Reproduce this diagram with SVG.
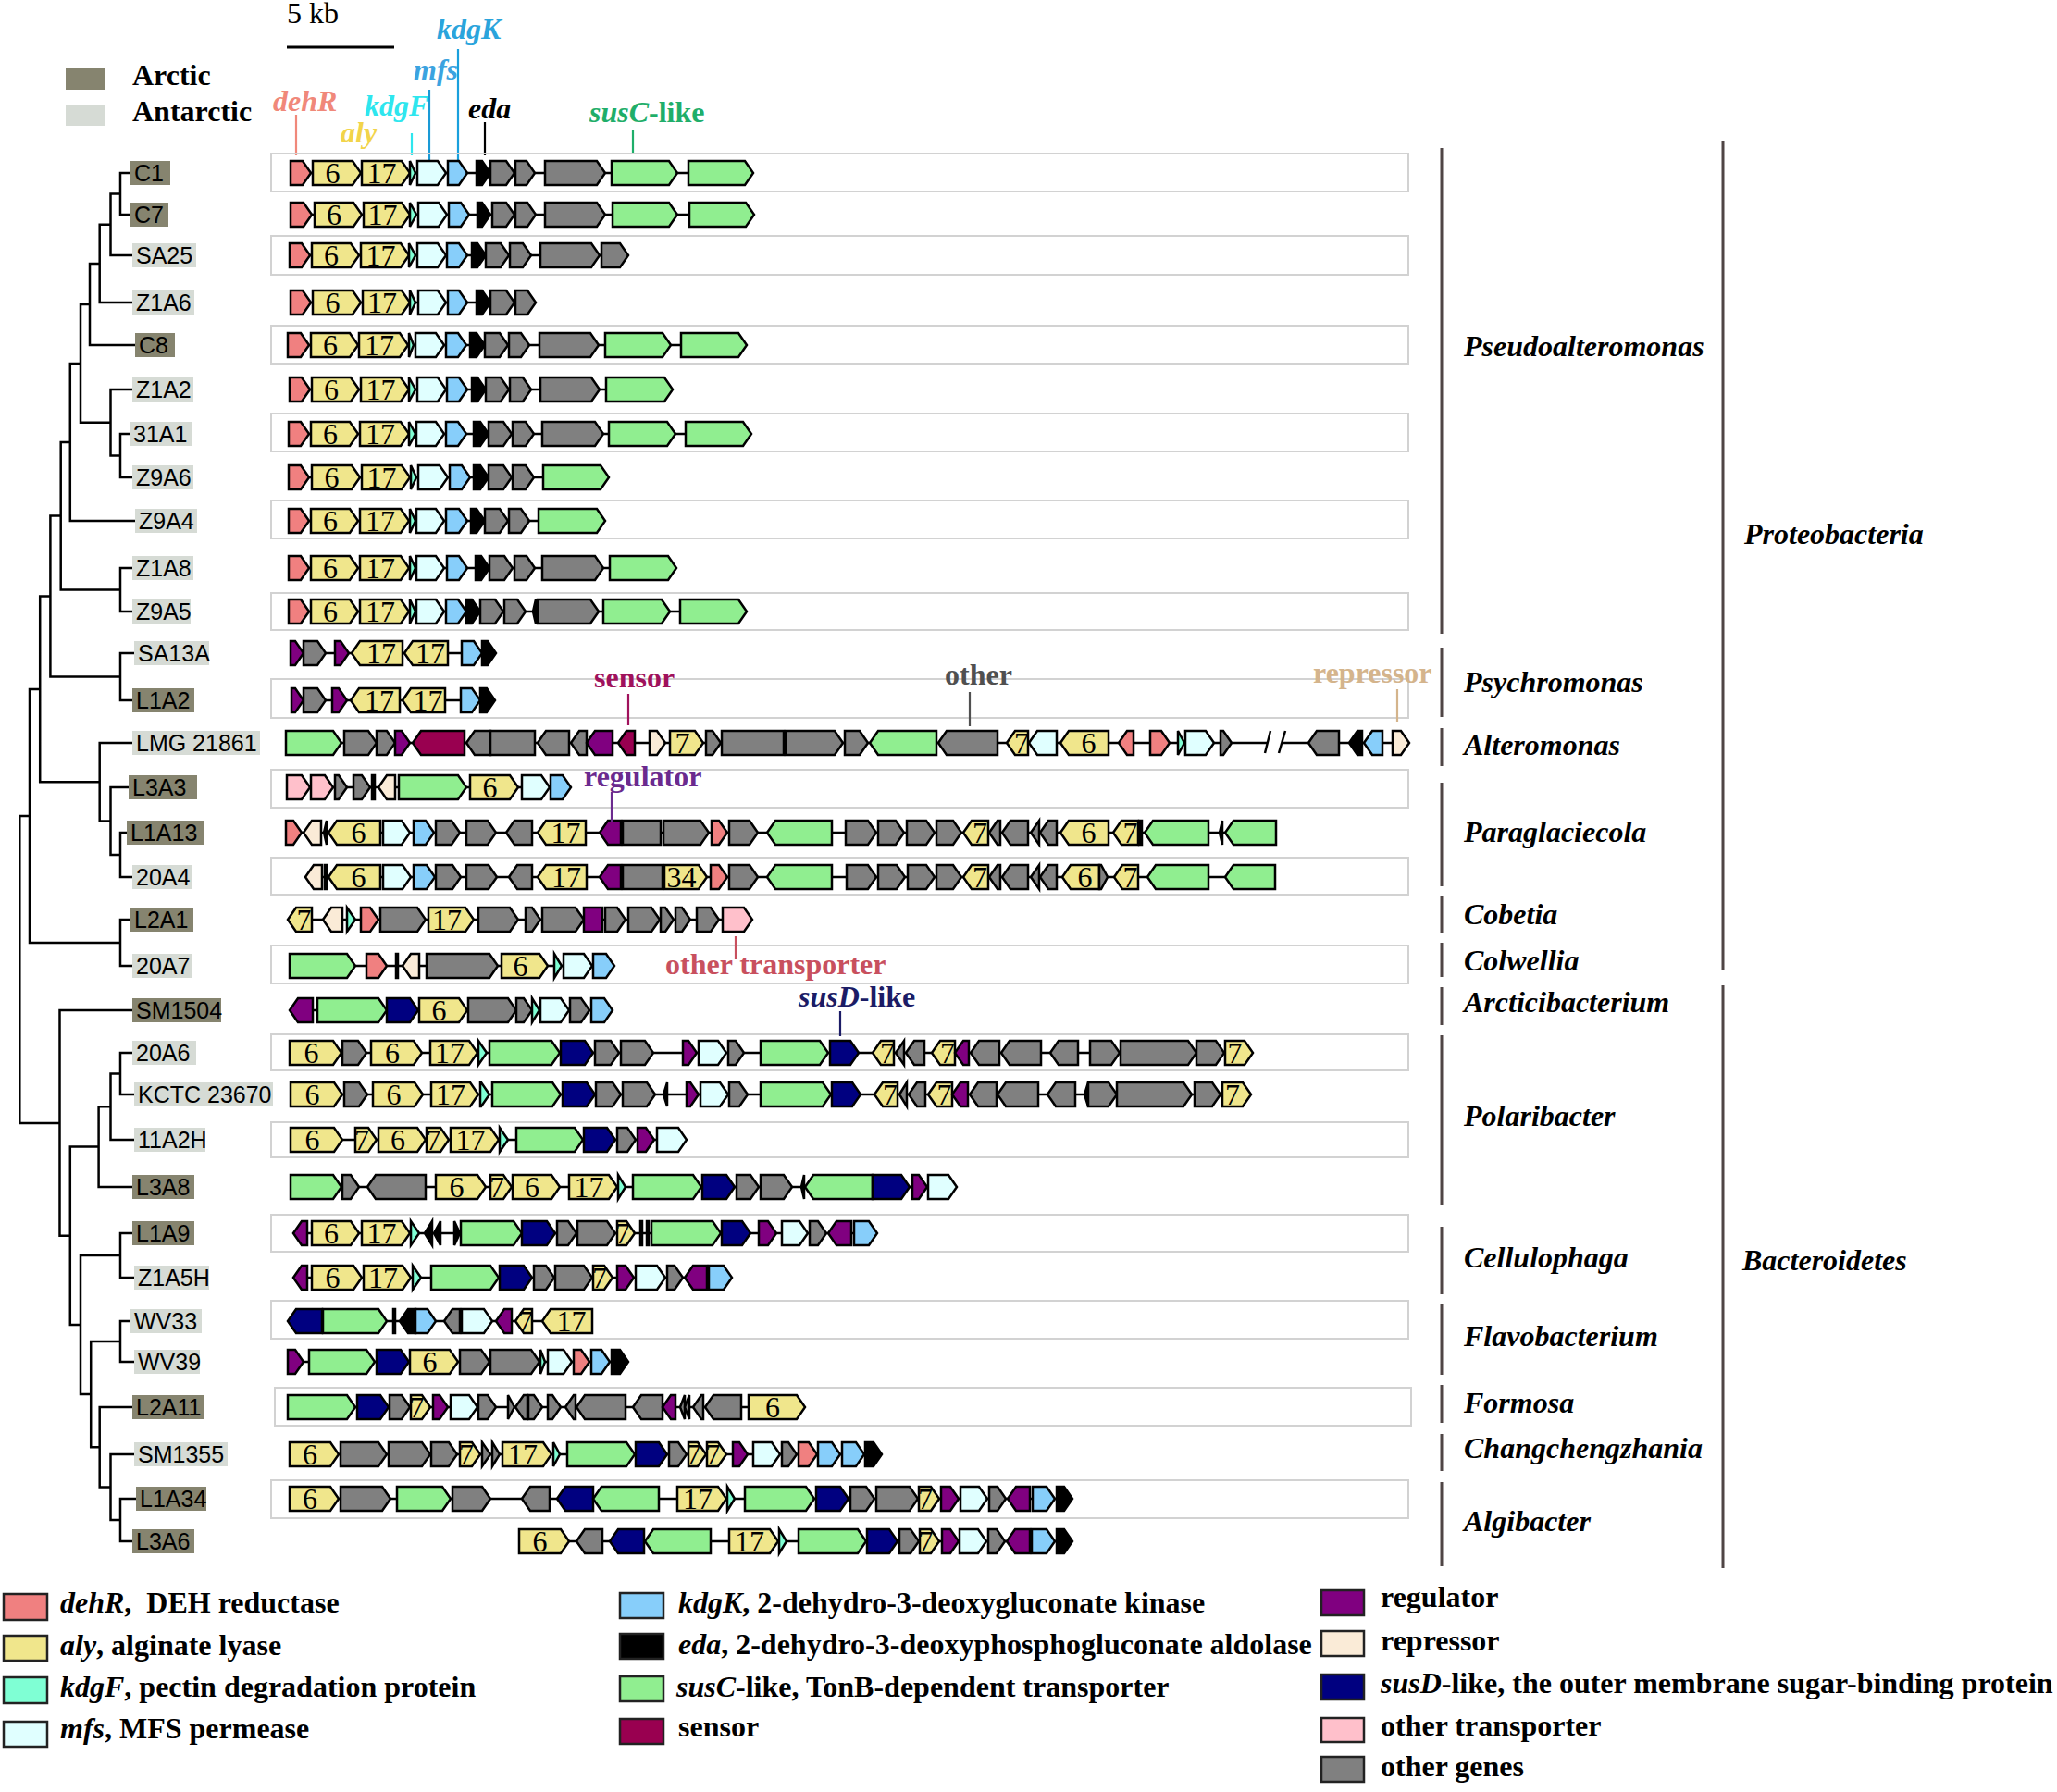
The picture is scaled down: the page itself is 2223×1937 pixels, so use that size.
<svg xmlns="http://www.w3.org/2000/svg" width="2223" height="1937" viewBox="0 0 2223 1937">
<style>
.tx{font-family:"Liberation Serif","Times New Roman",serif;font-weight:bold;font-size:32px}
.it{font-style:italic}
.lab{font-family:"Liberation Sans",Arial,sans-serif;font-size:25px;fill:#000}
.num{font-family:"Liberation Serif","Times New Roman",serif;font-size:32px;text-anchor:middle;fill:#000}
.genes polygon{stroke:#000;stroke-width:2.5;stroke-linejoin:miter}
.bb{stroke:#000;stroke-width:2.5}
.frame{fill:none;stroke:#d2d2d2;stroke-width:2}
.arc{fill:#86846f}.ant{fill:#d6dbd5}
.tree{fill:none;stroke:#000;stroke-width:2.5}
.tax{stroke:#4f4545;stroke-width:3}
.tick{stroke-width:2.2}
.lg{stroke:#222;stroke-width:2.5}
.r{fill:#f08080}.y{fill:#f0e68c}.f{fill:#7fffd4}.m{fill:#e0ffff}.k{fill:#87cefa}.e{fill:#000}.c{fill:#90ee90}.s{fill:#990050}.g{fill:#800080}.p{fill:#faebd7}.d{fill:#000080}.t{fill:#ffc0cb}.o{fill:#808080}
</style>
<rect width="2223" height="1937" fill="#fff"/>

<g id="header">
<text class="tx" style="font-weight:normal" x="310" y="25" font-size="31">5 kb</text>
<line x1="310" y1="51" x2="426" y2="51" stroke="#000" stroke-width="3"/>
<rect class="arc" x="71" y="73" width="42" height="24"/>
<rect class="ant" x="71" y="113" width="42" height="23"/>
<text class="tx" x="143" y="92">Arctic</text>
<text class="tx" x="143" y="131">Antarctic</text>
<text class="tx it" x="295" y="120" fill="#f0887a">dehR</text>
<text class="tx it" x="368" y="154" fill="#f2d44a">aly</text>
<text class="tx it" x="394" y="125" fill="#2ee6ee">kdgF</text>
<text class="tx it" x="447" y="86" fill="#3ba3e0">mfs</text>
<text class="tx it" x="472" y="42" fill="#2aa4dc">kdgK</text>
<text class="tx it" x="506" y="128" fill="#000">eda</text>
<text class="tx" x="637" y="132" fill="#1fae6a"><tspan class="it">susC</tspan>-like</text>
<line class="tick" x1="320" y1="124" x2="320" y2="168" stroke="#f0887a"/>
<line class="tick" x1="445" y1="144" x2="445" y2="168" stroke="#2ee6ee"/>
<line class="tick" x1="464" y1="97" x2="464" y2="174" stroke="#1a9ad6"/>
<line class="tick" x1="495" y1="53" x2="495" y2="174" stroke="#1aa0dd"/>
<line class="tick" x1="524" y1="132" x2="524" y2="168" stroke="#000"/>
<line class="tick" x1="684" y1="140" x2="684" y2="166" stroke="#1fae6a"/>
</g>

<g id="connectors">
<path class="tree" d="M141,187H130V232H141 M130,209.5H119.5V276H143 M119.5,242.75H107.7V327H143 M107.7,284.9H97V373H146 M140,469H130V516H143 M143,421H119.5V492.5H130 M97,329H87V456.75H119.5 M87,393H75.8V563H146 M143,614H130V661H143 M75.8,478H65.7V637.5H130 M145,706H130V757H143 M65.7,557.6H54.4V731.5H130 M137,900H130V948H143 M139,851H119.5V924H130 M143,803H107.7V887.5H119.5 M54.4,644.5H43.2V845.25H107.7 M141,994H130V1044H143 M43.2,744.9H32V1019H130 M143,1138H130V1183H145 M130,1160.5H119.5V1232H145 M119.5,1196.25H106.6V1283H143 M143,1333H130V1381H145 M141,1428H130V1472H145 M147,1620H130V1666H143 M145,1572H119.5V1643H130 M143,1521H107.7V1607.5H119.5 M130,1450H98.2V1564.25H107.7 M130,1357H87V1507.1H98.2 M106.6,1239.6H75.8V1432H87 M143,1092H64.5V1335.8H75.8 M32,882H21.3V1213.9H64.5"/>
</g>

<g id="frames">
<rect class="frame" x="293" y="166" width="1229" height="41"/>
<rect class="frame" x="293" y="255" width="1229" height="42"/>
<rect class="frame" x="293" y="352" width="1229" height="41"/>
<rect class="frame" x="293" y="447" width="1229" height="41"/>
<rect class="frame" x="293" y="541" width="1229" height="41"/>
<rect class="frame" x="293" y="641" width="1229" height="40"/>
<rect class="frame" x="293" y="734" width="1229" height="42"/>
<rect class="frame" x="293" y="832" width="1229" height="41"/>
<rect class="frame" x="293" y="927" width="1229" height="40"/>
<rect class="frame" x="293" y="1022" width="1229" height="41"/>
<rect class="frame" x="293" y="1118" width="1229" height="39"/>
<rect class="frame" x="293" y="1213" width="1229" height="38"/>
<rect class="frame" x="293" y="1313" width="1229" height="40"/>
<rect class="frame" x="293" y="1406" width="1229" height="41"/>
<rect class="frame" x="297" y="1500" width="1228" height="41"/>
<rect class="frame" x="293" y="1600" width="1229" height="41"/>
</g>

<g id="row-C1">
<rect class="arc" x="141" y="174" width="43" height="26"/><text class="lab" x="145" y="196">C1</text>
<g class="genes" transform="translate(0,187)">
<line class="bb" x1="314" x2="814"/>
<polygon class="r" points="314,-13 327,-13 336,0 327,13 314,13"/>
<polygon class="y" points="338,-13 381,-13 390,0 381,13 338,13"/>
<polygon class="y" points="391,-13 434,-13 443,0 434,13 391,13"/>
<polygon class="f" points="443,-13 449,0 443,13"/>
<polygon class="m" points="451,-13 473,-13 482,0 473,13 451,13"/>
<polygon class="k" points="484,-13 496,-13 505,0 496,13 484,13"/>
<polygon class="e" points="515,-13 521,-13 530,0 521,13 515,13"/>
<polygon class="o" points="530,-13 547,-13 556,0 547,13 530,13"/>
<polygon class="o" points="557,-13 569,-13 578,0 569,13 557,13"/>
<polygon class="o" points="589,-13 645,-13 654,0 645,13 589,13"/>
<polygon class="c" points="661,-13 723,-13 732,0 723,13 661,13"/>
<polygon class="c" points="744,-13 805,-13 814,0 805,13 744,13"/>
<text class="num" x="359.5" y="11">6</text><text class="num" x="412.5" y="11">17</text>
</g></g>

<g id="row-C7">
<rect class="arc" x="141" y="219" width="41" height="26"/><text class="lab" x="145" y="241">C7</text>
<g class="genes" transform="translate(0,232)">
<line class="bb" x1="314" x2="815"/>
<polygon class="r" points="314,-13 328,-13 337,0 328,13 314,13"/>
<polygon class="y" points="340,-13 382,-13 391,0 382,13 340,13"/>
<polygon class="y" points="393,-13 434,-13 443,0 434,13 393,13"/>
<polygon class="f" points="443,-13 450,0 443,13"/>
<polygon class="m" points="452,-13 474,-13 483,0 474,13 452,13"/>
<polygon class="k" points="485,-13 498,-13 507,0 498,13 485,13"/>
<polygon class="e" points="516,-13 521,-13 530,0 521,13 516,13"/>
<polygon class="o" points="532,-13 547,-13 556,0 547,13 532,13"/>
<polygon class="o" points="557,-13 570,-13 579,0 570,13 557,13"/>
<polygon class="o" points="589,-13 645,-13 654,0 645,13 589,13"/>
<polygon class="c" points="662,-13 723,-13 732,0 723,13 662,13"/>
<polygon class="c" points="745,-13 806,-13 815,0 806,13 745,13"/>
<text class="num" x="361" y="11">6</text><text class="num" x="413.5" y="11">17</text>
</g></g>

<g id="row-SA25">
<rect class="ant" x="143" y="263" width="69" height="26"/><text class="lab" x="147" y="285">SA25</text>
<g class="genes" transform="translate(0,276)">
<line class="bb" x1="313" x2="679"/>
<polygon class="r" points="313,-13 326,-13 335,0 326,13 313,13"/>
<polygon class="y" points="337,-13 379,-13 388,0 379,13 337,13"/>
<polygon class="y" points="390,-13 433,-13 442,0 433,13 390,13"/>
<polygon class="f" points="442,-13 449,0 442,13"/>
<polygon class="m" points="451,-13 473,-13 482,0 473,13 451,13"/>
<polygon class="k" points="483,-13 496,-13 505,0 496,13 483,13"/>
<polygon class="e" points="510,-13 516,-13 525,0 516,13 510,13"/>
<polygon class="o" points="525,-13 541,-13 550,0 541,13 525,13"/>
<polygon class="o" points="551,-13 565,-13 574,0 565,13 551,13"/>
<polygon class="o" points="584,-13 639,-13 648,0 639,13 584,13"/>
<polygon class="o" points="650,-13 670,-13 679,0 670,13 650,13"/>
<text class="num" x="358" y="11">6</text><text class="num" x="411.5" y="11">17</text>
</g></g>

<g id="row-Z1A6">
<rect class="ant" x="143" y="314" width="67" height="26"/><text class="lab" x="147" y="336">Z1A6</text>
<g class="genes" transform="translate(0,327)">
<line class="bb" x1="314" x2="579"/>
<polygon class="r" points="314,-13 327,-13 336,0 327,13 314,13"/>
<polygon class="y" points="338,-13 381,-13 390,0 381,13 338,13"/>
<polygon class="y" points="392,-13 434,-13 443,0 434,13 392,13"/>
<polygon class="f" points="443,-13 449,0 443,13"/>
<polygon class="m" points="452,-13 473,-13 482,0 473,13 452,13"/>
<polygon class="k" points="484,-13 496,-13 505,0 496,13 484,13"/>
<polygon class="e" points="515,-13 521,-13 530,0 521,13 515,13"/>
<polygon class="o" points="530,-13 547,-13 556,0 547,13 530,13"/>
<polygon class="o" points="557,-13 570,-13 579,0 570,13 557,13"/>
<text class="num" x="359.5" y="11">6</text><text class="num" x="413" y="11">17</text>
</g></g>

<g id="row-C8">
<rect class="arc" x="146" y="360" width="43" height="26"/><text class="lab" x="150" y="382">C8</text>
<g class="genes" transform="translate(0,373)">
<line class="bb" x1="311" x2="807"/>
<polygon class="r" points="311,-13 325,-13 334,0 325,13 311,13"/>
<polygon class="y" points="336,-13 378,-13 387,0 378,13 336,13"/>
<polygon class="y" points="388,-13 432,-13 441,0 432,13 388,13"/>
<polygon class="f" points="442,-13 447,0 442,13"/>
<polygon class="m" points="449,-13 471,-13 480,0 471,13 449,13"/>
<polygon class="k" points="482,-13 495,-13 504,0 495,13 482,13"/>
<polygon class="e" points="508,-13 515,-13 524,0 515,13 508,13"/>
<polygon class="o" points="524,-13 540,-13 549,0 540,13 524,13"/>
<polygon class="o" points="550,-13 563,-13 572,0 563,13 550,13"/>
<polygon class="o" points="583,-13 638,-13 647,0 638,13 583,13"/>
<polygon class="c" points="654,-13 716,-13 725,0 716,13 654,13"/>
<polygon class="c" points="736,-13 798,-13 807,0 798,13 736,13"/>
<text class="num" x="357" y="11">6</text><text class="num" x="410" y="11">17</text>
</g></g>

<g id="row-Z1A2">
<rect class="ant" x="143" y="408" width="66" height="26"/><text class="lab" x="147" y="430">Z1A2</text>
<g class="genes" transform="translate(0,421)">
<line class="bb" x1="313" x2="727"/>
<polygon class="r" points="313,-13 326,-13 335,0 326,13 313,13"/>
<polygon class="y" points="337,-13 379,-13 388,0 379,13 337,13"/>
<polygon class="y" points="390,-13 433,-13 442,0 433,13 390,13"/>
<polygon class="f" points="442,-13 449,0 442,13"/>
<polygon class="m" points="451,-13 473,-13 482,0 473,13 451,13"/>
<polygon class="k" points="483,-13 496,-13 505,0 496,13 483,13"/>
<polygon class="e" points="510,-13 516,-13 525,0 516,13 510,13"/>
<polygon class="o" points="525,-13 541,-13 550,0 541,13 525,13"/>
<polygon class="o" points="551,-13 565,-13 574,0 565,13 551,13"/>
<polygon class="o" points="584,-13 639,-13 648,0 639,13 584,13"/>
<polygon class="c" points="655,-13 718,-13 727,0 718,13 655,13"/>
<text class="num" x="358" y="11">6</text><text class="num" x="411.5" y="11">17</text>
</g></g>

<g id="row-31A1">
<rect class="ant" x="140" y="456" width="68" height="26"/><text class="lab" x="144" y="478">31A1</text>
<g class="genes" transform="translate(0,469)">
<line class="bb" x1="312" x2="812"/>
<polygon class="r" points="312,-13 325,-13 334,0 325,13 312,13"/>
<polygon class="y" points="336,-13 378,-13 387,0 378,13 336,13"/>
<polygon class="y" points="389,-13 433,-13 442,0 433,13 389,13"/>
<polygon class="f" points="442,-13 449,0 442,13"/>
<polygon class="m" points="450,-13 471,-13 480,0 471,13 450,13"/>
<polygon class="k" points="482,-13 495,-13 504,0 495,13 482,13"/>
<polygon class="e" points="512,-13 519,-13 528,0 519,13 512,13"/>
<polygon class="o" points="528,-13 544,-13 553,0 544,13 528,13"/>
<polygon class="o" points="554,-13 568,-13 577,0 568,13 554,13"/>
<polygon class="o" points="586,-13 643,-13 652,0 643,13 586,13"/>
<polygon class="c" points="658,-13 721,-13 730,0 721,13 658,13"/>
<polygon class="c" points="741,-13 803,-13 812,0 803,13 741,13"/>
<text class="num" x="357" y="11">6</text><text class="num" x="411" y="11">17</text>
</g></g>

<g id="row-Z9A6">
<rect class="ant" x="143" y="503" width="66" height="26"/><text class="lab" x="147" y="525">Z9A6</text>
<g class="genes" transform="translate(0,516)">
<line class="bb" x1="312" x2="658"/>
<polygon class="r" points="312,-13 325,-13 334,0 325,13 312,13"/>
<polygon class="y" points="337,-13 380,-13 389,0 380,13 337,13"/>
<polygon class="y" points="391,-13 434,-13 443,0 434,13 391,13"/>
<polygon class="f" points="444,-13 450,0 444,13"/>
<polygon class="m" points="452,-13 475,-13 484,0 475,13 452,13"/>
<polygon class="k" points="486,-13 499,-13 508,0 499,13 486,13"/>
<polygon class="e" points="512,-13 519,-13 528,0 519,13 512,13"/>
<polygon class="o" points="528,-13 544,-13 553,0 544,13 528,13"/>
<polygon class="o" points="554,-13 568,-13 577,0 568,13 554,13"/>
<polygon class="c" points="587,-13 649,-13 658,0 649,13 587,13"/>
<text class="num" x="358.5" y="11">6</text><text class="num" x="412.5" y="11">17</text>
</g></g>

<g id="row-Z9A4">
<rect class="ant" x="146" y="550" width="67" height="26"/><text class="lab" x="150" y="572">Z9A4</text>
<g class="genes" transform="translate(0,563)">
<line class="bb" x1="312" x2="654"/>
<polygon class="r" points="312,-13 325,-13 334,0 325,13 312,13"/>
<polygon class="y" points="336,-13 378,-13 387,0 378,13 336,13"/>
<polygon class="y" points="389,-13 433,-13 442,0 433,13 389,13"/>
<polygon class="f" points="443,-13 449,0 443,13"/>
<polygon class="m" points="450,-13 471,-13 480,0 471,13 450,13"/>
<polygon class="k" points="482,-13 496,-13 505,0 496,13 482,13"/>
<polygon class="e" points="509,-13 515,-13 524,0 515,13 509,13"/>
<polygon class="o" points="524,-13 540,-13 549,0 540,13 524,13"/>
<polygon class="o" points="550,-13 563,-13 572,0 563,13 550,13"/>
<polygon class="c" points="582,-13 645,-13 654,0 645,13 582,13"/>
<text class="num" x="357" y="11">6</text><text class="num" x="411" y="11">17</text>
</g></g>

<g id="row-Z1A8">
<rect class="ant" x="143" y="601" width="66" height="26"/><text class="lab" x="147" y="623">Z1A8</text>
<g class="genes" transform="translate(0,614)">
<line class="bb" x1="312" x2="731"/>
<polygon class="r" points="312,-13 325,-13 334,0 325,13 312,13"/>
<polygon class="y" points="336,-13 378,-13 387,0 378,13 336,13"/>
<polygon class="y" points="389,-13 433,-13 442,0 433,13 389,13"/>
<polygon class="f" points="443,-13 449,0 443,13"/>
<polygon class="m" points="450,-13 471,-13 480,0 471,13 450,13"/>
<polygon class="k" points="483,-13 496,-13 505,0 496,13 483,13"/>
<polygon class="e" points="514,-13 520,-13 529,0 520,13 514,13"/>
<polygon class="o" points="529,-13 545,-13 554,0 545,13 529,13"/>
<polygon class="o" points="556,-13 569,-13 578,0 569,13 556,13"/>
<polygon class="o" points="586,-13 643,-13 652,0 643,13 586,13"/>
<polygon class="c" points="659,-13 722,-13 731,0 722,13 659,13"/>
<text class="num" x="357" y="11">6</text><text class="num" x="411" y="11">17</text>
</g></g>

<g id="row-Z9A5">
<rect class="ant" x="143" y="648" width="63" height="26"/><text class="lab" x="147" y="670">Z9A5</text>
<g class="genes" transform="translate(0,661)">
<line class="bb" x1="312" x2="807"/>
<polygon class="r" points="312,-13 325,-13 334,0 325,13 312,13"/>
<polygon class="y" points="336,-13 378,-13 387,0 378,13 336,13"/>
<polygon class="y" points="389,-13 433,-13 442,0 433,13 389,13"/>
<polygon class="f" points="443,-13 449,0 443,13"/>
<polygon class="m" points="450,-13 471,-13 480,0 471,13 450,13"/>
<polygon class="k" points="482,-13 495,-13 504,0 495,13 482,13"/>
<polygon class="e" points="504,-13 510,-13 519,0 510,13 504,13"/>
<polygon class="o" points="519,-13 535,-13 544,0 535,13 519,13"/>
<polygon class="o" points="545,-13 559,-13 568,0 559,13 545,13"/>
<polygon class="e" points="576,0 579,-13 579,13"/>
<polygon class="o" points="581,-13 638,-13 647,0 638,13 581,13"/>
<polygon class="c" points="652,-13 715,-13 724,0 715,13 652,13"/>
<polygon class="c" points="735,-13 798,-13 807,0 798,13 735,13"/>
<text class="num" x="357" y="11">6</text><text class="num" x="411" y="11">17</text>
</g></g>

<g id="row-SA13A">
<rect class="ant" x="145" y="693" width="81" height="26"/><text class="lab" x="149" y="715">SA13A</text>
<g class="genes" transform="translate(0,706)">
<line class="bb" x1="314" x2="536"/>
<polygon class="g" points="314,-13 319,-13 328,0 319,13 314,13"/>
<polygon class="o" points="328,-13 343,-13 352,0 343,13 328,13"/>
<polygon class="g" points="362,-13 368,-13 377,0 368,13 362,13"/>
<polygon class="y" points="380,0 389,-13 435,-13 435,13 389,13"/>
<polygon class="y" points="437,0 446,-13 484,-13 484,13 446,13"/>
<polygon class="k" points="499,-13 512,-13 521,0 512,13 499,13"/>
<polygon class="e" points="521,-13 527,-13 536,0 527,13 521,13"/>
<text class="num" x="412" y="11">17</text><text class="num" x="465" y="11">17</text>
</g></g>

<g id="row-L1A2">
<rect class="arc" x="143" y="744" width="67" height="26"/><text class="lab" x="147" y="766">L1A2</text>
<g class="genes" transform="translate(0,757)">
<line class="bb" x1="315" x2="535"/>
<polygon class="g" points="315,-13 319,-13 328,0 319,13 315,13"/>
<polygon class="o" points="328,-13 343,-13 352,0 343,13 328,13"/>
<polygon class="g" points="359,-13 366,-13 375,0 366,13 359,13"/>
<polygon class="y" points="379,0 388,-13 432,-13 432,13 388,13"/>
<polygon class="y" points="435,0 444,-13 481,-13 481,13 444,13"/>
<polygon class="k" points="498,-13 510,-13 519,0 510,13 498,13"/>
<polygon class="e" points="519,-13 526,-13 535,0 526,13 519,13"/>
<text class="num" x="410" y="11">17</text><text class="num" x="462.5" y="11">17</text>
</g></g>

<g id="row-LMG21861">
<rect class="ant" x="143" y="790" width="138" height="26"/><text class="lab" x="147" y="812">LMG 21861</text>
<g class="genes" transform="translate(0,803)">
<line class="bb" x1="309" x2="1370"/>
<line class="bb" x1="1385" x2="1523"/>
<line class="bb" x1="1373" y1="-13" x2="1367" y2="11"/>
<line class="bb" x1="1389" y1="-13" x2="1382" y2="11"/>
<polygon class="c" points="309,-13 360,-13 369,0 360,13 309,13"/>
<polygon class="o" points="372,-13 398,-13 407,0 398,13 372,13"/>
<polygon class="o" points="407,-13 418,-13 427,0 418,13 407,13"/>
<polygon class="g" points="427,-13 434,-13 443,0 434,13 427,13"/>
<polygon class="s" points="446,0 455,-13 502,-13 502,13 455,13"/>
<polygon class="o" points="504,0 513,-13 530,-13 530,13 513,13"/>
<polygon class="o" points="530,-13 578,-13 578,13 530,13"/>
<polygon class="o" points="581,0 590,-13 615,-13 615,13 590,13"/>
<polygon class="o" points="617,0 626,-13 634,-13 634,13 626,13"/>
<polygon class="g" points="634,0 643,-13 662,-13 662,13 643,13"/>
<polygon class="s" points="668,0 677,-13 686,-13 686,13 677,13"/>
<polygon class="p" points="702,-13 710,-13 719,0 710,13 702,13"/>
<polygon class="y" points="724,-13 751,-13 760,0 751,13 724,13"/>
<polygon class="o" points="763,-13 770,-13 779,0 770,13 763,13"/>
<polygon class="o" points="780,-13 847,-13 847,13 780,13"/>
<polygon class="o" points="849,-13 902,-13 911,0 902,13 849,13"/>
<polygon class="o" points="913,-13 929,-13 938,0 929,13 913,13"/>
<polygon class="c" points="940,0 949,-13 1012,-13 1012,13 949,13"/>
<polygon class="o" points="1014,0 1023,-13 1078,-13 1078,13 1023,13"/>
<polygon class="y" points="1088,0 1097,-13 1111,-13 1111,13 1097,13"/>
<polygon class="m" points="1112,0 1121,-13 1142,-13 1142,13 1121,13"/>
<polygon class="y" points="1146,0 1155,-13 1198,-13 1198,13 1155,13"/>
<polygon class="r" points="1209,0 1218,-13 1225,-13 1225,13 1218,13"/>
<polygon class="r" points="1243,-13 1255,-13 1264,0 1255,13 1243,13"/>
<polygon class="f" points="1273,-13 1280,0 1273,13"/>
<polygon class="m" points="1281,-13 1303,-13 1312,0 1303,13 1281,13"/>
<polygon class="o" points="1319,-13 1322,-13 1331,0 1322,13 1319,13"/>
<polygon class="o" points="1414,0 1423,-13 1447,-13 1447,13 1423,13"/>
<polygon class="e" points="1458,0 1467,-13 1472,-13 1472,13 1467,13"/>
<polygon class="k" points="1474,0 1483,-13 1494,-13 1494,13 1483,13"/>
<polygon class="p" points="1505,-13 1514,-13 1523,0 1514,13 1505,13"/>
<text class="num" x="737.5" y="11">7</text><text class="num" x="1104" y="11">7</text><text class="num" x="1176.5" y="11">6</text>
</g></g>

<g id="row-L3A3">
<rect class="arc" x="139" y="838" width="74" height="26"/><text class="lab" x="143" y="860">L3A3</text>
<g class="genes" transform="translate(0,851)">
<line class="bb" x1="310" x2="617"/>
<polygon class="t" points="310,-13 326,-13 335,0 326,13 310,13"/>
<polygon class="t" points="336,-13 351,-13 360,0 351,13 336,13"/>
<polygon class="o" points="362,-13 366,-13 375,0 366,13 362,13"/>
<polygon class="o" points="382,-13 391,-13 400,0 391,13 382,13"/>
<polygon class="e" points="402,-13 405,-13 405,13 402,13"/>
<polygon class="p" points="409,0 418,-13 427,-13 427,13 418,13"/>
<polygon class="c" points="431,-13 495,-13 504,0 495,13 431,13"/>
<polygon class="y" points="508,-13 551,-13 560,0 551,13 508,13"/>
<polygon class="m" points="564,-13 585,-13 594,0 585,13 564,13"/>
<polygon class="k" points="595,-13 608,-13 617,0 608,13 595,13"/>
<text class="num" x="529.5" y="11">6</text>
</g></g>

<g id="row-L1A13">
<rect class="arc" x="137" y="887" width="84" height="26"/><text class="lab" x="141" y="909">L1A13</text>
<g class="genes" transform="translate(0,900)">
<line class="bb" x1="309" x2="1379"/>
<polygon class="r" points="309,-13 317,-13 326,0 317,13 309,13"/>
<polygon class="p" points="328,0 337,-13 347,-13 347,13 337,13"/>
<polygon class="e" points="350,0 353,-13 353,13"/>
<polygon class="y" points="355,0 364,-13 411,-13 411,13 364,13"/>
<polygon class="m" points="414,-13 434,-13 443,0 434,13 414,13"/>
<polygon class="k" points="447,-13 460,-13 469,0 460,13 447,13"/>
<polygon class="o" points="471,-13 488,-13 497,0 488,13 471,13"/>
<polygon class="o" points="504,-13 527,-13 536,0 527,13 504,13"/>
<polygon class="o" points="547,0 556,-13 575,-13 575,13 556,13"/>
<polygon class="y" points="581,0 590,-13 633,-13 633,13 590,13"/>
<polygon class="g" points="648,0 657,-13 671,-13 671,13 657,13"/>
<polygon class="o" points="673,-13 714,-13 714,13 673,13"/>
<polygon class="o" points="717,-13 757,-13 766,0 757,13 717,13"/>
<polygon class="r" points="769,-13 777,-13 786,0 777,13 769,13"/>
<polygon class="o" points="788,-13 810,-13 819,0 810,13 788,13"/>
<polygon class="c" points="829,0 838,-13 899,-13 899,13 838,13"/>
<polygon class="o" points="914,-13 938,-13 947,0 938,13 914,13"/>
<polygon class="o" points="949,-13 968,-13 977,0 968,13 949,13"/>
<polygon class="o" points="980,-13 1001,-13 1010,0 1001,13 980,13"/>
<polygon class="o" points="1012,-13 1030,-13 1039,0 1030,13 1012,13"/>
<polygon class="y" points="1041,0 1050,-13 1068,-13 1068,13 1050,13"/>
<polygon class="o" points="1069,0 1078,-13 1081,-13 1081,13 1078,13"/>
<polygon class="o" points="1083,0 1092,-13 1111,-13 1111,13 1092,13"/>
<polygon class="o" points="1114,0 1123,-13 1123,13"/>
<polygon class="o" points="1124,0 1133,-13 1142,-13 1142,13 1133,13"/>
<polygon class="y" points="1146,0 1155,-13 1198,-13 1198,13 1155,13"/>
<polygon class="y" points="1203,0 1212,-13 1230,-13 1230,13 1212,13"/>
<polygon class="e" points="1231,-13 1234,-13 1234,13 1231,13"/>
<polygon class="c" points="1237,0 1246,-13 1306,-13 1306,13 1246,13"/>
<polygon class="e" points="1318,0 1321,-13 1321,13"/>
<polygon class="c" points="1324,0 1333,-13 1379,-13 1379,13 1333,13"/>
<text class="num" x="387.5" y="11">6</text><text class="num" x="611.5" y="11">17</text><text class="num" x="1059" y="11">7</text><text class="num" x="1176.5" y="11">6</text><text class="num" x="1221.5" y="11">7</text>
</g></g>

<g id="row-20A4">
<rect class="ant" x="143" y="935" width="65" height="26"/><text class="lab" x="147" y="957">20A4</text>
<g class="genes" transform="translate(0,948)">
<line class="bb" x1="330" x2="1378"/>
<polygon class="p" points="330,0 339,-13 348,-13 348,13 339,13"/>
<polygon class="e" points="351,-13 353,-13 353,13 351,13"/>
<polygon class="y" points="355,0 364,-13 411,-13 411,13 364,13"/>
<polygon class="m" points="414,-13 435,-13 444,0 435,13 414,13"/>
<polygon class="k" points="447,-13 461,-13 470,0 461,13 447,13"/>
<polygon class="o" points="471,-13 489,-13 498,0 489,13 471,13"/>
<polygon class="o" points="504,-13 528,-13 537,0 528,13 504,13"/>
<polygon class="o" points="550,0 559,-13 575,-13 575,13 559,13"/>
<polygon class="y" points="581,0 590,-13 634,-13 634,13 590,13"/>
<polygon class="g" points="648,0 657,-13 671,-13 671,13 657,13"/>
<polygon class="o" points="673,-13 716,-13 716,13 673,13"/>
<polygon class="y" points="718,-13 755,-13 764,0 755,13 718,13"/>
<polygon class="r" points="768,-13 777,-13 786,0 777,13 768,13"/>
<polygon class="o" points="788,-13 810,-13 819,0 810,13 788,13"/>
<polygon class="c" points="829,0 838,-13 899,-13 899,13 838,13"/>
<polygon class="o" points="915,-13 938,-13 947,0 938,13 915,13"/>
<polygon class="o" points="949,-13 969,-13 978,0 969,13 949,13"/>
<polygon class="o" points="981,-13 1001,-13 1010,0 1001,13 981,13"/>
<polygon class="o" points="1012,-13 1030,-13 1039,0 1030,13 1012,13"/>
<polygon class="y" points="1041,0 1050,-13 1068,-13 1068,13 1050,13"/>
<polygon class="o" points="1069,0 1078,-13 1081,-13 1081,13 1078,13"/>
<polygon class="o" points="1083,0 1092,-13 1111,-13 1111,13 1092,13"/>
<polygon class="o" points="1114,0 1123,-13 1123,13"/>
<polygon class="o" points="1124,0 1133,-13 1142,-13 1142,13 1133,13"/>
<polygon class="y" points="1148,0 1157,-13 1188,-13 1188,13 1157,13"/>
<polygon class="o" points="1188,-13 1190,-13 1197,0 1190,13 1188,13"/>
<polygon class="y" points="1204,0 1213,-13 1230,-13 1230,13 1213,13"/>
<polygon class="c" points="1240,0 1249,-13 1306,-13 1306,13 1249,13"/>
<polygon class="c" points="1324,0 1333,-13 1378,-13 1378,13 1333,13"/>
<text class="num" x="387.5" y="11">6</text><text class="num" x="612" y="11">17</text><text class="num" x="736.5" y="11">34</text><text class="num" x="1059" y="11">7</text><text class="num" x="1172.5" y="11">6</text><text class="num" x="1221.5" y="11">7</text>
</g></g>

<g id="row-L2A1">
<rect class="arc" x="141" y="981" width="68" height="26"/><text class="lab" x="145" y="1003">L2A1</text>
<g class="genes" transform="translate(0,994)">
<line class="bb" x1="311" x2="813"/>
<polygon class="y" points="311,0 320,-13 337,-13 337,13 320,13"/>
<polygon class="p" points="349,0 358,-13 370,-13 370,13 358,13"/>
<polygon class="f" points="375,-13 384,0 375,13"/>
<polygon class="r" points="390,-13 400,-13 409,0 400,13 390,13"/>
<polygon class="o" points="411,-13 451,-13 460,0 451,13 411,13"/>
<polygon class="y" points="463,-13 503,-13 512,0 503,13 463,13"/>
<polygon class="o" points="517,-13 551,-13 560,0 551,13 517,13"/>
<polygon class="o" points="568,-13 575,-13 584,0 575,13 568,13"/>
<polygon class="o" points="586,-13 622,-13 631,0 622,13 586,13"/>
<polygon class="g" points="631,-13 651,-13 651,13 631,13"/>
<polygon class="o" points="654,-13 667,-13 676,0 667,13 654,13"/>
<polygon class="o" points="679,-13 704,-13 713,0 704,13 679,13"/>
<polygon class="o" points="714,-13 719,-13 728,0 719,13 714,13"/>
<polygon class="o" points="730,-13 737,-13 746,0 737,13 730,13"/>
<polygon class="o" points="753,-13 768,-13 777,0 768,13 753,13"/>
<polygon class="t" points="781,-13 804,-13 813,0 804,13 781,13"/>
<text class="num" x="328.5" y="11">7</text><text class="num" x="483" y="11">17</text>
</g></g>

<g id="row-20A7">
<rect class="ant" x="143" y="1031" width="65" height="26"/><text class="lab" x="147" y="1053">20A7</text>
<g class="genes" transform="translate(0,1044)">
<line class="bb" x1="313" x2="664"/>
<polygon class="c" points="313,-13 375,-13 384,0 375,13 313,13"/>
<polygon class="r" points="396,-13 409,-13 418,0 409,13 396,13"/>
<polygon class="e" points="428,-13 430,-13 430,13 428,13"/>
<polygon class="p" points="435,0 444,-13 453,-13 453,13 444,13"/>
<polygon class="o" points="461,-13 529,-13 538,0 529,13 461,13"/>
<polygon class="y" points="542,-13 583,-13 592,0 583,13 542,13"/>
<polygon class="f" points="599,-13 607,0 599,13"/>
<polygon class="m" points="609,-13 631,-13 640,0 631,13 609,13"/>
<polygon class="k" points="641,-13 655,-13 664,0 655,13 641,13"/>
<text class="num" x="562.5" y="11">6</text>
</g></g>

<g id="row-SM1504">
<rect class="arc" x="143" y="1079" width="96" height="26"/><text class="lab" x="147" y="1101">SM1504</text>
<g class="genes" transform="translate(0,1092)">
<line class="bb" x1="313" x2="662"/>
<polygon class="g" points="313,0 322,-13 338,-13 338,13 322,13"/>
<polygon class="c" points="343,-13 409,-13 418,0 409,13 343,13"/>
<polygon class="d" points="418,-13 443,-13 452,0 443,13 418,13"/>
<polygon class="y" points="453,-13 496,-13 505,0 496,13 453,13"/>
<polygon class="o" points="506,-13 549,-13 558,0 549,13 506,13"/>
<polygon class="o" points="558,-13 566,-13 575,0 566,13 558,13"/>
<polygon class="f" points="575,-13 583,0 575,13"/>
<polygon class="m" points="584,-13 606,-13 615,0 606,13 584,13"/>
<polygon class="o" points="616,-13 628,-13 637,0 628,13 616,13"/>
<polygon class="k" points="639,-13 653,-13 662,0 653,13 639,13"/>
<text class="num" x="474.5" y="11">6</text>
</g></g>

<g id="row-20A6">
<rect class="ant" x="143" y="1125" width="69" height="26"/><text class="lab" x="147" y="1147">20A6</text>
<g class="genes" transform="translate(0,1138)">
<line class="bb" x1="313" x2="1354"/>
<polygon class="y" points="313,-13 360,-13 369,0 360,13 313,13"/>
<polygon class="o" points="370,-13 387,-13 396,0 387,13 370,13"/>
<polygon class="y" points="401,-13 447,-13 456,0 447,13 401,13"/>
<polygon class="y" points="465,-13 507,-13 516,0 507,13 465,13"/>
<polygon class="f" points="517,-13 526,0 517,13"/>
<polygon class="c" points="529,-13 596,-13 605,0 596,13 529,13"/>
<polygon class="d" points="606,-13 632,-13 641,0 632,13 606,13"/>
<polygon class="o" points="643,-13 660,-13 669,0 660,13 643,13"/>
<polygon class="o" points="671,-13 697,-13 706,0 697,13 671,13"/>
<polygon class="g" points="738,-13 744,-13 753,0 744,13 738,13"/>
<polygon class="m" points="755,-13 776,-13 785,0 776,13 755,13"/>
<polygon class="o" points="787,-13 795,-13 804,0 795,13 787,13"/>
<polygon class="c" points="822,-13 886,-13 895,0 886,13 822,13"/>
<polygon class="d" points="897,-13 919,-13 928,0 919,13 897,13"/>
<polygon class="y" points="943,0 952,-13 966,-13 966,13 952,13"/>
<polygon class="o" points="968,0 977,-13 977,13"/>
<polygon class="o" points="979,0 988,-13 999,-13 999,13 988,13"/>
<polygon class="y" points="1007,0 1016,-13 1032,-13 1032,13 1016,13"/>
<polygon class="g" points="1032,0 1041,-13 1047,-13 1047,13 1041,13"/>
<polygon class="o" points="1049,0 1058,-13 1080,-13 1080,13 1058,13"/>
<polygon class="o" points="1082,0 1091,-13 1125,-13 1125,13 1091,13"/>
<polygon class="o" points="1135,0 1144,-13 1165,-13 1165,13 1144,13"/>
<polygon class="o" points="1178,-13 1201,-13 1210,0 1201,13 1178,13"/>
<polygon class="o" points="1211,-13 1284,-13 1293,0 1284,13 1211,13"/>
<polygon class="o" points="1293,-13 1314,-13 1323,0 1314,13 1293,13"/>
<polygon class="y" points="1324,-13 1345,-13 1354,0 1345,13 1324,13"/>
<text class="num" x="336.5" y="11">6</text><text class="num" x="424" y="11">6</text><text class="num" x="486" y="11">17</text><text class="num" x="959" y="11">7</text><text class="num" x="1024" y="11">7</text><text class="num" x="1334.5" y="11">7</text>
</g></g>

<g id="row-KCTC23670">
<rect class="ant" x="145" y="1170" width="150" height="26"/><text class="lab" x="149" y="1192">KCTC 23670</text>
<g class="genes" transform="translate(0,1183)">
<line class="bb" x1="314" x2="1352"/>
<polygon class="y" points="314,-13 361,-13 370,0 361,13 314,13"/>
<polygon class="o" points="372,-13 388,-13 397,0 388,13 372,13"/>
<polygon class="y" points="403,-13 448,-13 457,0 448,13 403,13"/>
<polygon class="y" points="466,-13 508,-13 517,0 508,13 466,13"/>
<polygon class="f" points="519,-13 520,-13 529,0 520,13 519,13"/>
<polygon class="c" points="532,-13 597,-13 606,0 597,13 532,13"/>
<polygon class="d" points="608,-13 634,-13 643,0 634,13 608,13"/>
<polygon class="o" points="644,-13 662,-13 671,0 662,13 644,13"/>
<polygon class="o" points="673,-13 699,-13 708,0 699,13 673,13"/>
<polygon class="e" points="717,0 721,-13 721,13"/>
<polygon class="g" points="742,-13 746,-13 755,0 746,13 742,13"/>
<polygon class="m" points="757,-13 778,-13 787,0 778,13 757,13"/>
<polygon class="o" points="788,-13 799,-13 808,0 799,13 788,13"/>
<polygon class="c" points="822,-13 889,-13 898,0 889,13 822,13"/>
<polygon class="d" points="899,-13 921,-13 930,0 921,13 899,13"/>
<polygon class="y" points="945,0 954,-13 970,-13 970,13 954,13"/>
<polygon class="o" points="972,0 980,-13 980,13"/>
<polygon class="o" points="982,0 991,-13 1000,-13 1000,13 991,13"/>
<polygon class="y" points="1003,0 1012,-13 1029,-13 1029,13 1012,13"/>
<polygon class="g" points="1029,0 1038,-13 1046,-13 1046,13 1038,13"/>
<polygon class="o" points="1048,0 1057,-13 1077,-13 1077,13 1057,13"/>
<polygon class="o" points="1078,0 1087,-13 1122,-13 1122,13 1087,13"/>
<polygon class="o" points="1132,0 1141,-13 1162,-13 1162,13 1141,13"/>
<polygon class="e" points="1172,0 1176,-13 1176,13"/>
<polygon class="o" points="1176,-13 1198,-13 1207,0 1198,13 1176,13"/>
<polygon class="o" points="1207,-13 1279,-13 1288,0 1279,13 1207,13"/>
<polygon class="o" points="1291,-13 1310,-13 1319,0 1310,13 1291,13"/>
<polygon class="y" points="1321,-13 1343,-13 1352,0 1343,13 1321,13"/>
<text class="num" x="337.5" y="11">6</text><text class="num" x="425.5" y="11">6</text><text class="num" x="487" y="11">17</text><text class="num" x="962" y="11">7</text><text class="num" x="1020.5" y="11">7</text><text class="num" x="1332" y="11">7</text>
</g></g>

<g id="row-11A2H">
<rect class="ant" x="145" y="1219" width="77" height="26"/><text class="lab" x="149" y="1241">11A2H</text>
<g class="genes" transform="translate(0,1232)">
<line class="bb" x1="314" x2="742"/>
<polygon class="y" points="314,-13 361,-13 370,0 361,13 314,13"/>
<polygon class="y" points="384,-13 398,-13 407,0 398,13 384,13"/>
<polygon class="y" points="409,-13 451,-13 460,0 451,13 409,13"/>
<polygon class="y" points="461,-13 476,-13 485,0 476,13 461,13"/>
<polygon class="y" points="487,-13 530,-13 539,0 530,13 487,13"/>
<polygon class="f" points="540,-13 549,0 540,13"/>
<polygon class="c" points="558,-13 621,-13 630,0 621,13 558,13"/>
<polygon class="d" points="631,-13 656,-13 665,0 656,13 631,13"/>
<polygon class="o" points="667,-13 678,-13 687,0 678,13 667,13"/>
<polygon class="g" points="689,-13 698,-13 707,0 698,13 689,13"/>
<polygon class="m" points="710,-13 733,-13 742,0 733,13 710,13"/>
<text class="num" x="337.5" y="11">6</text><text class="num" x="391" y="11">7</text><text class="num" x="430" y="11">6</text><text class="num" x="468.5" y="11">7</text><text class="num" x="508.5" y="11">17</text>
</g></g>

<g id="row-L3A8">
<rect class="arc" x="143" y="1270" width="67" height="26"/><text class="lab" x="147" y="1292">L3A8</text>
<g class="genes" transform="translate(0,1283)">
<line class="bb" x1="314" x2="1034"/>
<polygon class="c" points="314,-13 360,-13 369,0 360,13 314,13"/>
<polygon class="o" points="370,-13 379,-13 388,0 379,13 370,13"/>
<polygon class="o" points="397,0 406,-13 460,-13 460,13 406,13"/>
<polygon class="y" points="471,-13 516,-13 525,0 516,13 471,13"/>
<polygon class="y" points="530,-13 544,-13 553,0 544,13 530,13"/>
<polygon class="y" points="554,-13 596,-13 605,0 596,13 554,13"/>
<polygon class="y" points="615,-13 658,-13 667,0 658,13 615,13"/>
<polygon class="f" points="668,-13 676,0 668,13"/>
<polygon class="c" points="684,-13 749,-13 758,0 749,13 684,13"/>
<polygon class="d" points="759,-13 785,-13 794,0 785,13 759,13"/>
<polygon class="o" points="796,-13 811,-13 820,0 811,13 796,13"/>
<polygon class="o" points="822,-13 847,-13 856,0 847,13 822,13"/>
<polygon class="e" points="866,0 869,-13 869,13"/>
<polygon class="c" points="870,0 879,-13 943,-13 943,13 879,13"/>
<polygon class="d" points="943,-13 974,-13 983,0 974,13 943,13"/>
<polygon class="g" points="986,-13 993,-13 1002,0 993,13 986,13"/>
<polygon class="m" points="1003,-13 1025,-13 1034,0 1025,13 1003,13"/>
<text class="num" x="493.5" y="11">6</text><text class="num" x="537" y="11">7</text><text class="num" x="575" y="11">6</text><text class="num" x="636.5" y="11">17</text>
</g></g>

<g id="row-L1A9">
<rect class="arc" x="143" y="1320" width="67" height="26"/><text class="lab" x="147" y="1342">L1A9</text>
<g class="genes" transform="translate(0,1333)">
<line class="bb" x1="317" x2="948"/>
<polygon class="g" points="317,0 326,-13 332,-13 332,13 326,13"/>
<polygon class="y" points="337,-13 379,-13 388,0 379,13 337,13"/>
<polygon class="y" points="391,-13 434,-13 443,0 434,13 391,13"/>
<polygon class="f" points="444,-13 453,0 444,13"/>
<polygon class="e" points="459,0 467,-13 467,13"/>
<polygon class="e" points="469,0 476,-13 476,13"/>
<polygon class="e" points="491,-13 497,0 491,13"/>
<polygon class="c" points="498,-13 555,-13 564,0 555,13 498,13"/>
<polygon class="d" points="564,-13 591,-13 600,0 591,13 564,13"/>
<polygon class="o" points="602,-13 614,-13 623,0 614,13 602,13"/>
<polygon class="o" points="624,-13 656,-13 665,0 656,13 624,13"/>
<polygon class="y" points="667,-13 677,-13 686,0 677,13 667,13"/>
<polygon class="e" points="692,-13 694,-13 694,13 692,13"/>
<polygon class="e" points="699,-13 701,-13 701,13 699,13"/>
<polygon class="c" points="704,-13 770,-13 779,0 770,13 704,13"/>
<polygon class="d" points="780,-13 802,-13 811,0 802,13 780,13"/>
<polygon class="g" points="820,-13 830,-13 839,0 830,13 820,13"/>
<polygon class="m" points="845,-13 864,-13 873,0 864,13 845,13"/>
<polygon class="o" points="875,-13 884,-13 893,0 884,13 875,13"/>
<polygon class="g" points="895,0 904,-13 920,-13 920,13 904,13"/>
<polygon class="k" points="923,-13 939,-13 948,0 939,13 923,13"/>
<text class="num" x="358" y="11">6</text><text class="num" x="412.5" y="11">17</text><text class="num" x="673" y="11">7</text>
</g></g>

<g id="row-Z1A5H">
<rect class="ant" x="145" y="1368" width="81" height="26"/><text class="lab" x="149" y="1390">Z1A5H</text>
<g class="genes" transform="translate(0,1381)">
<line class="bb" x1="317" x2="791"/>
<polygon class="g" points="317,0 326,-13 332,-13 332,13 326,13"/>
<polygon class="y" points="337,-13 382,-13 391,0 382,13 337,13"/>
<polygon class="y" points="393,-13 435,-13 444,0 435,13 393,13"/>
<polygon class="f" points="446,-13 455,0 446,13"/>
<polygon class="c" points="466,-13 530,-13 539,0 530,13 466,13"/>
<polygon class="d" points="540,-13 566,-13 575,0 566,13 540,13"/>
<polygon class="o" points="577,-13 590,-13 599,0 590,13 577,13"/>
<polygon class="o" points="600,-13 631,-13 640,0 631,13 600,13"/>
<polygon class="y" points="641,-13 653,-13 662,0 653,13 641,13"/>
<polygon class="g" points="667,-13 676,-13 685,0 676,13 667,13"/>
<polygon class="m" points="687,-13 710,-13 719,0 710,13 687,13"/>
<polygon class="o" points="721,-13 729,-13 738,0 729,13 721,13"/>
<polygon class="g" points="740,0 749,-13 764,-13 764,13 749,13"/>
<polygon class="k" points="766,-13 782,-13 791,0 782,13 766,13"/>
<text class="num" x="359.5" y="11">6</text><text class="num" x="414" y="11">17</text><text class="num" x="648" y="11">7</text>
</g></g>

<g id="row-WV33">
<rect class="ant" x="141" y="1415" width="77" height="26"/><text class="lab" x="145" y="1437">WV33</text>
<g class="genes" transform="translate(0,1428)">
<line class="bb" x1="311" x2="640"/>
<polygon class="d" points="311,0 320,-13 348,-13 348,13 320,13"/>
<polygon class="c" points="349,-13 409,-13 418,0 409,13 349,13"/>
<polygon class="e" points="425,-13 427,-13 427,13 425,13"/>
<polygon class="e" points="432,0 441,-13 449,-13 449,13 441,13"/>
<polygon class="k" points="449,-13 462,-13 471,0 462,13 449,13"/>
<polygon class="o" points="480,0 489,-13 497,-13 497,13 489,13"/>
<polygon class="m" points="499,-13 523,-13 532,0 523,13 499,13"/>
<polygon class="g" points="536,0 545,-13 553,-13 553,13 545,13"/>
<polygon class="y" points="557,0 566,-13 575,-13 575,13 566,13"/>
<polygon class="y" points="586,0 595,-13 640,-13 640,13 595,13"/>
<text class="num" x="568" y="11">7</text><text class="num" x="617.5" y="11">17</text>
</g></g>

<g id="row-WV39">
<rect class="ant" x="145" y="1459" width="71" height="26"/><text class="lab" x="149" y="1481">WV39</text>
<g class="genes" transform="translate(0,1472)">
<line class="bb" x1="311" x2="679"/>
<polygon class="g" points="311,-13 319,-13 328,0 319,13 311,13"/>
<polygon class="c" points="334,-13 396,-13 405,0 396,13 334,13"/>
<polygon class="d" points="407,-13 433,-13 442,0 433,13 407,13"/>
<polygon class="y" points="443,-13 486,-13 495,0 486,13 443,13"/>
<polygon class="o" points="497,-13 520,-13 529,0 520,13 497,13"/>
<polygon class="o" points="530,-13 574,-13 583,0 574,13 530,13"/>
<polygon class="f" points="584,-13 589,0 584,13"/>
<polygon class="m" points="592,-13 609,-13 618,0 609,13 592,13"/>
<polygon class="r" points="620,-13 628,-13 637,0 628,13 620,13"/>
<polygon class="k" points="639,-13 650,-13 659,0 650,13 639,13"/>
<polygon class="e" points="661,-13 670,-13 679,0 670,13 661,13"/>
<text class="num" x="464.5" y="11">6</text>
</g></g>

<g id="row-L2A11">
<rect class="arc" x="143" y="1508" width="77" height="26"/><text class="lab" x="147" y="1530">L2A11</text>
<g class="genes" transform="translate(0,1521)">
<line class="bb" x1="311" x2="870"/>
<polygon class="c" points="311,-13 375,-13 384,0 375,13 311,13"/>
<polygon class="d" points="386,-13 411,-13 420,0 411,13 386,13"/>
<polygon class="o" points="421,-13 434,-13 443,0 434,13 421,13"/>
<polygon class="y" points="444,-13 456,-13 465,0 456,13 444,13"/>
<polygon class="g" points="468,-13 475,-13 484,0 475,13 468,13"/>
<polygon class="m" points="487,-13 507,-13 516,0 507,13 487,13"/>
<polygon class="o" points="517,-13 527,-13 536,0 527,13 517,13"/>
<polygon class="o" points="549,-13 556,0 549,13"/>
<polygon class="o" points="557,0 566,-13 570,-13 570,13 566,13"/>
<polygon class="o" points="571,-13 577,-13 586,0 577,13 571,13"/>
<polygon class="o" points="592,-13 597,-13 606,0 597,13 592,13"/>
<polygon class="o" points="611,0 620,-13 622,-13 622,13 620,13"/>
<polygon class="o" points="623,0 632,-13 676,-13 676,13 632,13"/>
<polygon class="o" points="684,0 693,-13 716,-13 716,13 693,13"/>
<polygon class="g" points="716,0 725,-13 730,-13 730,13 725,13"/>
<polygon class="o" points="735,0 740,-13 740,13"/>
<polygon class="o" points="740,0 745,-13 745,13"/>
<polygon class="o" points="749,0 758,-13 760,-13 760,13 758,13"/>
<polygon class="o" points="762,0 771,-13 801,-13 801,13 771,13"/>
<polygon class="y" points="809,-13 861,-13 870,0 861,13 809,13"/>
<text class="num" x="450.5" y="11">7</text><text class="num" x="835" y="11">6</text>
</g></g>

<g id="row-SM1355">
<rect class="ant" x="145" y="1559" width="101" height="26"/><text class="lab" x="149" y="1581">SM1355</text>
<g class="genes" transform="translate(0,1572)">
<line class="bb" x1="313" x2="953"/>
<polygon class="y" points="313,-13 357,-13 366,0 357,13 313,13"/>
<polygon class="o" points="368,-13 409,-13 418,0 409,13 368,13"/>
<polygon class="o" points="420,-13 456,-13 465,0 456,13 420,13"/>
<polygon class="o" points="466,-13 485,-13 494,0 485,13 466,13"/>
<polygon class="y" points="497,-13 510,-13 519,0 510,13 497,13"/>
<polygon class="o" points="521,-13 530,0 521,13"/>
<polygon class="o" points="532,-13 540,0 532,13"/>
<polygon class="y" points="543,-13 587,-13 596,0 587,13 543,13"/>
<polygon class="f" points="598,-13 605,0 598,13"/>
<polygon class="c" points="613,-13 677,-13 686,0 677,13 613,13"/>
<polygon class="d" points="687,-13 712,-13 721,0 712,13 687,13"/>
<polygon class="o" points="723,-13 733,-13 742,0 733,13 723,13"/>
<polygon class="y" points="744,-13 754,-13 763,0 754,13 744,13"/>
<polygon class="y" points="764,-13 776,-13 785,0 776,13 764,13"/>
<polygon class="g" points="792,-13 799,-13 808,0 799,13 792,13"/>
<polygon class="m" points="814,-13 834,-13 843,0 834,13 814,13"/>
<polygon class="o" points="845,-13 852,-13 861,0 852,13 845,13"/>
<polygon class="r" points="863,-13 874,-13 883,0 874,13 863,13"/>
<polygon class="k" points="884,-13 899,-13 908,0 899,13 884,13"/>
<polygon class="k" points="910,-13 925,-13 934,0 925,13 910,13"/>
<polygon class="e" points="935,-13 944,-13 953,0 944,13 935,13"/>
<text class="num" x="335" y="11">6</text><text class="num" x="504" y="11">7</text><text class="num" x="565" y="11">17</text><text class="num" x="749.5" y="11">7</text><text class="num" x="770.5" y="11">7</text>
</g></g>

<g id="row-L1A34">
<rect class="arc" x="147" y="1607" width="76" height="26"/><text class="lab" x="151" y="1629">L1A34</text>
<g class="genes" transform="translate(0,1620)">
<line class="bb" x1="313" x2="1159"/>
<polygon class="y" points="313,-13 357,-13 366,0 357,13 313,13"/>
<polygon class="o" points="368,-13 413,-13 422,0 413,13 368,13"/>
<polygon class="c" points="429,-13 478,-13 487,0 478,13 429,13"/>
<polygon class="o" points="489,-13 521,-13 530,0 521,13 489,13"/>
<polygon class="o" points="564,0 573,-13 594,-13 594,13 573,13"/>
<polygon class="d" points="602,0 611,-13 641,-13 641,13 611,13"/>
<polygon class="c" points="641,0 650,-13 712,-13 712,13 650,13"/>
<polygon class="y" points="732,-13 776,-13 785,0 776,13 732,13"/>
<polygon class="f" points="786,-13 794,0 786,13"/>
<polygon class="c" points="805,-13 871,-13 880,0 871,13 805,13"/>
<polygon class="d" points="882,-13 908,-13 917,0 908,13 882,13"/>
<polygon class="o" points="919,-13 936,-13 945,0 936,13 919,13"/>
<polygon class="o" points="947,-13 983,-13 992,0 983,13 947,13"/>
<polygon class="y" points="993,-13 1006,-13 1015,0 1006,13 993,13"/>
<polygon class="g" points="1017,-13 1027,-13 1036,0 1027,13 1017,13"/>
<polygon class="m" points="1038,-13 1058,-13 1067,0 1058,13 1038,13"/>
<polygon class="o" points="1069,-13 1078,-13 1087,0 1078,13 1069,13"/>
<polygon class="g" points="1089,0 1098,-13 1113,-13 1113,13 1098,13"/>
<polygon class="k" points="1116,-13 1131,-13 1140,0 1131,13 1116,13"/>
<polygon class="e" points="1142,-13 1150,-13 1159,0 1150,13 1142,13"/>
<text class="num" x="335" y="11">6</text><text class="num" x="754" y="11">17</text><text class="num" x="1000" y="11">7</text>
</g></g>

<g id="row-L3A6">
<rect class="arc" x="143" y="1653" width="67" height="26"/><text class="lab" x="147" y="1675">L3A6</text>
<g class="genes" transform="translate(0,1666)">
<line class="bb" x1="561" x2="1159"/>
<polygon class="y" points="561,-13 606,-13 615,0 606,13 561,13"/>
<polygon class="o" points="623,0 632,-13 651,-13 651,13 632,13"/>
<polygon class="d" points="659,0 668,-13 696,-13 696,13 668,13"/>
<polygon class="c" points="697,0 706,-13 768,-13 768,13 706,13"/>
<polygon class="y" points="788,-13 832,-13 841,0 832,13 788,13"/>
<polygon class="f" points="842,-13 850,0 842,13"/>
<polygon class="c" points="863,-13 927,-13 936,0 927,13 863,13"/>
<polygon class="d" points="937,-13 961,-13 970,0 961,13 937,13"/>
<polygon class="o" points="972,-13 984,-13 993,0 984,13 972,13"/>
<polygon class="y" points="994,-13 1006,-13 1015,0 1006,13 994,13"/>
<polygon class="g" points="1018,-13 1027,-13 1036,0 1027,13 1018,13"/>
<polygon class="m" points="1037,-13 1057,-13 1066,0 1057,13 1037,13"/>
<polygon class="o" points="1068,-13 1077,-13 1086,0 1077,13 1068,13"/>
<polygon class="g" points="1088,0 1097,-13 1113,-13 1113,13 1097,13"/>
<polygon class="k" points="1115,-13 1131,-13 1140,0 1131,13 1115,13"/>
<polygon class="e" points="1142,-13 1150,-13 1159,0 1150,13 1142,13"/>
<text class="num" x="583.5" y="11">6</text><text class="num" x="810" y="11">17</text><text class="num" x="1000.5" y="11">7</text>
</g></g>

<g id="callouts">
<text class="tx" x="642" y="743" fill="#a0125c">sensor</text>
<line class="tick" x1="679" y1="750" x2="679" y2="784" stroke="#a0125c"/>
<text class="tx" x="631" y="850" fill="#6b2a8e">regulator</text>
<line class="tick" x1="661" y1="856" x2="661" y2="888" stroke="#6b2a8e"/>
<text class="tx" x="1021" y="740" fill="#505050">other</text>
<line class="tick" x1="1048" y1="748" x2="1048" y2="785" stroke="#505050"/>
<text class="tx" x="1419" y="738" fill="#d4b48c">repressor</text>
<line class="tick" x1="1510" y1="745" x2="1510" y2="780" stroke="#d4b48c"/>
<text class="tx" x="719" y="1053" fill="#c8505e">other transporter</text>
<line class="tick" x1="795" y1="1012" x2="795" y2="1037" stroke="#c8505e"/>
<text class="tx" x="863" y="1088" fill="#1c1c66"><tspan class="it">susD</tspan>-like</text>
<line class="tick" x1="908" y1="1093" x2="908" y2="1120" stroke="#1c1c66"/>
</g>

<g id="taxonomy">
<line class="tax" x1="1558" y1="160" x2="1558" y2="685"/>
<line class="tax" x1="1558" y1="700" x2="1558" y2="775"/>
<line class="tax" x1="1558" y1="787" x2="1558" y2="828"/>
<line class="tax" x1="1558" y1="846" x2="1558" y2="958"/>
<line class="tax" x1="1558" y1="968" x2="1558" y2="1009"/>
<line class="tax" x1="1558" y1="1019" x2="1558" y2="1056"/>
<line class="tax" x1="1558" y1="1067" x2="1558" y2="1108"/>
<line class="tax" x1="1558" y1="1119" x2="1558" y2="1302"/>
<line class="tax" x1="1558" y1="1326" x2="1558" y2="1399"/>
<line class="tax" x1="1558" y1="1410" x2="1558" y2="1486"/>
<line class="tax" x1="1558" y1="1497" x2="1558" y2="1538"/>
<line class="tax" x1="1558" y1="1550" x2="1558" y2="1590"/>
<line class="tax" x1="1558" y1="1602" x2="1558" y2="1693"/>
<line class="tax" x1="1862" y1="152" x2="1862" y2="1048"/>
<line class="tax" x1="1862" y1="1065" x2="1862" y2="1695"/>
<text class="tx it" x="1582" y="385">Pseudoalteromonas</text>
<text class="tx it" x="1582" y="748">Psychromonas</text>
<text class="tx it" x="1582" y="816">Alteromonas</text>
<text class="tx it" x="1582" y="910">Paraglaciecola</text>
<text class="tx it" x="1582" y="999">Cobetia</text>
<text class="tx it" x="1582" y="1049">Colwellia</text>
<text class="tx it" x="1582" y="1094">Arcticibacterium</text>
<text class="tx it" x="1582" y="1217">Polaribacter</text>
<text class="tx it" x="1582" y="1370">Cellulophaga</text>
<text class="tx it" x="1582" y="1455">Flavobacterium</text>
<text class="tx it" x="1582" y="1527">Formosa</text>
<text class="tx it" x="1582" y="1576">Changchengzhania</text>
<text class="tx it" x="1582" y="1655">Algibacter</text>
<text class="tx it" x="1885" y="588">Proteobacteria</text>
<text class="tx it" x="1883" y="1373">Bacteroidetes</text>
</g>

<g id="legend">
<rect class="lg r" x="4" y="1723" width="47" height="28"/>
<rect class="lg y" x="4" y="1768" width="47" height="27"/>
<rect class="lg f" x="4" y="1813" width="47" height="28"/>
<rect class="lg m" x="4" y="1861" width="47" height="27"/>
<text class="tx" x="65" y="1743" xml:space="preserve"><tspan class="it">dehR</tspan>,  DEH reductase</text>
<text class="tx" x="65" y="1789"><tspan class="it">aly</tspan>, alginate lyase</text>
<text class="tx" x="65" y="1834"><tspan class="it">kdgF</tspan>, pectin degradation protein</text>
<text class="tx" x="65" y="1879"><tspan class="it">mfs</tspan>, MFS permease</text>
<rect class="lg k" x="670" y="1722" width="47" height="27"/>
<rect class="lg e" x="670" y="1766" width="47" height="27"/>
<rect class="lg c" x="670" y="1812" width="47" height="27"/>
<rect class="lg s" x="670" y="1858" width="47" height="27"/>
<text class="tx" x="733" y="1743"><tspan class="it">kdgK</tspan>, 2-dehydro-3-deoxygluconate kinase</text>
<text class="tx" x="733" y="1788"><tspan class="it">eda</tspan>, 2-dehydro-3-deoxyphosphogluconate aldolase</text>
<text class="tx" x="731" y="1834"><tspan class="it">susC</tspan>-like, TonB-dependent transporter</text>
<text class="tx" x="733" y="1877">sensor</text>
<rect class="lg g" x="1428" y="1719" width="46" height="27"/>
<rect class="lg p" x="1428" y="1763" width="46" height="27"/>
<rect class="lg d" x="1428" y="1810" width="46" height="27"/>
<rect class="lg t" x="1428" y="1857" width="46" height="26"/>
<rect class="lg o" x="1428" y="1899" width="46" height="27"/>
<text class="tx" x="1492" y="1737">regulator</text>
<text class="tx" x="1492" y="1784">repressor</text>
<text class="tx" x="1492" y="1830"><tspan class="it">susD</tspan>-like, the outer membrane sugar-binding protein</text>
<text class="tx" x="1492" y="1876">other transporter</text>
<text class="tx" x="1492" y="1920">other genes</text>
</g>
</svg>
